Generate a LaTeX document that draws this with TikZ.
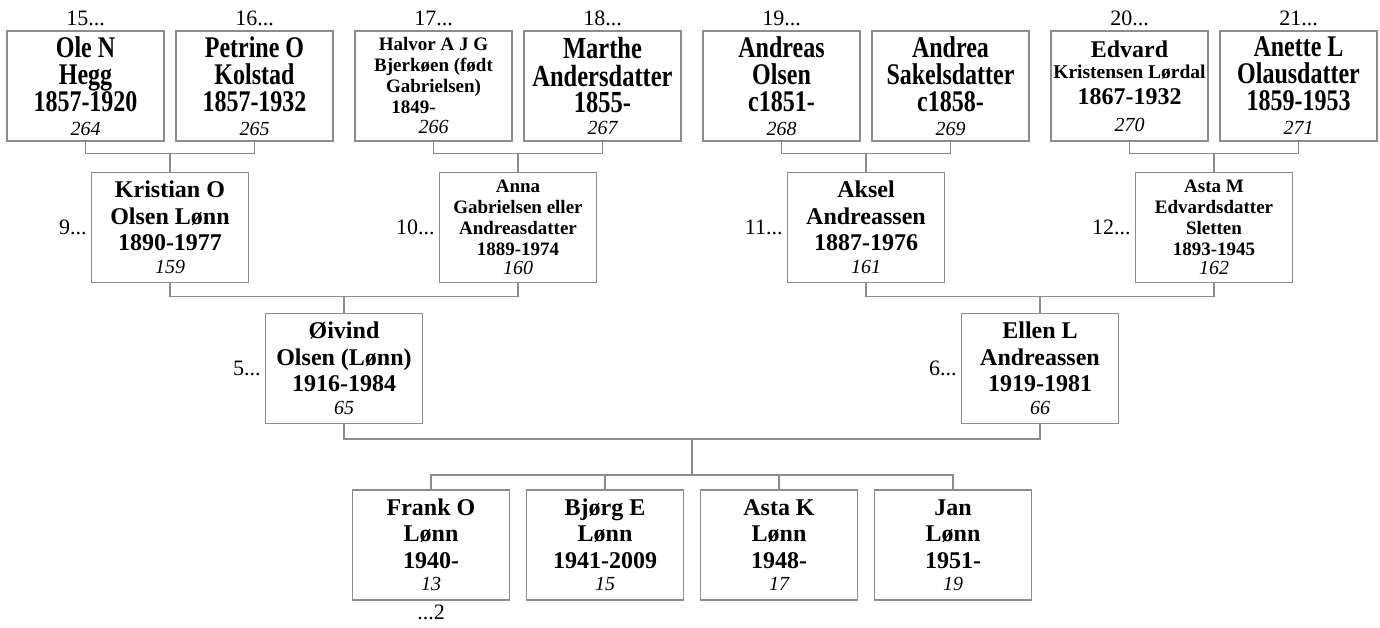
\documentclass[tikz,border=0pt]{standalone}
\usepackage{graphicx}
\usepackage{fontspec}
\setmainfont{Liberation Serif}
\usetikzlibrary{positioning}
\definecolor{boxgray}{RGB}{140,140,140}
\tikzstyle{person}=[draw=boxgray, line width=1.4pt, fill=white, minimum width=157pt, minimum height=110pt, text width=157pt, inner sep=0pt, align=flush center, font=\fontsize{24}{26.5}\selectfont\bfseries]
\tikzstyle{tall}=[person, font=\fontsize{24}{27}\selectfont\bfseries, execute at begin node={\lineskiplimit=-50pt\relax}]
\tikzstyle{small}=[person, font=\fontsize{19}{21}\selectfont\bfseries]
\tikzstyle{link}=[draw=boxgray, line width=1.2pt]
\tikzstyle{tag}=[font=\fontsize{22}{22}\selectfont\mdseries, inner sep=4pt]
\newcommand{\tl}[1]{\scalebox{1}[1.25]{#1}}
\newcommand{\refno}[1]{{\fontsize{20}{24}\selectfont\mdseries\itshape #1}}

\begin{document}
\begin{tikzpicture}[x=1pt,y=1pt]
\useasboundingbox (0,0) rectangle (1380,628);

% great-grandparents
\node (n264) [tall, label={[tag]above:15...}] at (85.5,542) {\tl{Ole N}\\\tl{Hegg}\\\tl{1857-1920}\\[-3pt]\refno{264}};
\node (n265) [tall, label={[tag]above:16...}] at (254.5,542) {\tl{Petrine O}\\\tl{Kolstad}\\\tl{1857-1932}\\[-3pt]\refno{265}};
\node (n266) [small, label={[tag]above:17...}] at (433.5,542) {Halvor A J G\\Bjerkøen (født\\Gabrielsen)\\\hspace*{-40pt}1849-\\[-1pt]\refno{266}};
\node (n267) [tall, font=\fontsize{24.5}{27}\selectfont\bfseries, label={[tag]above:18...}] at (602.5,542) {\tl{Marthe}\\[1pt]\tl{Andersdatter}\\[-1pt]\tl{1855-}\\[-5pt]\refno{267}};
\node (n268) [tall, label={[tag]above:19...}] at (781.5,542) {\tl{Andreas}\\\tl{Olsen}\\\tl{c1851-}\\[-3pt]\refno{268}};
\node (n269) [tall] at (950.5,542) {\tl{Andrea}\\\tl{Sakelsdatter}\\\tl{c1858-}\\[-3pt]\refno{269}};
\node (n270) [tall, label={[tag]above:20...}] at (1129.5,542) {Edvard\\[-6pt]{\fontsize{19.5}{21}\selectfont Kristensen Lørdal}\\[-1pt]1867-1932\\\refno{270}};
\node (n271) [tall, label={[tag]above:21...}] at (1298.5,542) {\tl{Anette L}\\\tl{Olausdatter}\\\tl{1859-1953}\\[-3pt]\refno{271}};

% grandparents
\node (n159) [person, label={[tag]left:9...}] at (170,400.5) {Kristian O\\Olsen Lønn\\1890-1977\\[-4pt]\refno{159}};
\node (n160) [small, label={[tag]left:10...}] at (518,400.5) {Anna\\Gabrielsen eller\\Andreasdatter\\1889-1974\\[-2pt]\refno{160}};
\node (n161) [person, label={[tag]left:11...}] at (866,400.5) {Aksel\\Andreassen\\1887-1976\\[-4pt]\refno{161}};
\node (n162) [small, label={[tag]left:12...}] at (1214,400.5) {Asta M\\Edvardsdatter\\Sletten\\1893-1945\\[-2pt]\refno{162}};

% parents
\node (n65) [person, label={[tag]left:5...}] at (344,259.5) {Øivind\\Olsen (Lønn)\\1916-1984\\[-4pt]\refno{65}};
\node (n66) [person, label={[tag]left:6...}] at (1040,259.5) {Ellen L\\Andreassen\\1919-1981\\[-4pt]\refno{66}};

% children
\node (n13) [person, label={[tag]below:...2}] at (431,83) {Frank O\\Lønn\\1940-\\[-4pt]\refno{13}};
\node (n15) [person] at (605,83) {Bjørg E\\Lønn\\1941-2009\\[-4pt]\refno{15}};
\node (n17) [person] at (779,83) {Asta K\\Lønn\\1948-\\[-4pt]\refno{17}};
\node (n19) [person] at (953,83) {Jan\\Lønn\\1951-\\[-4pt]\refno{19}};

% family forks
\path (n159.north) ++(0,18) coordinate (j159);
\path (n160.north) ++(0,18) coordinate (j160);
\path (n161.north) ++(0,18) coordinate (j161);
\path (n162.north) ++(0,18) coordinate (j162);
\path (n65.north) ++(0,16) coordinate (j65);
\path (n66.north) ++(0,16) coordinate (j66);
\coordinate (fam) at (692,189);
\coordinate (kids) at (692,153);

\draw [link] (n264.south) |- (j159) -| (n265.south);
\draw [link] (j159) -- (n159.north);
\draw [link] (n266.south) |- (j160) -| (n267.south);
\draw [link] (j160) -- (n160.north);
\draw [link] (n268.south) |- (j161) -| (n269.south);
\draw [link] (j161) -- (n161.north);
\draw [link] (n270.south) |- (j162) -| (n271.south);
\draw [link] (j162) -- (n162.north);

\draw [link] (n159.south) |- (j65) -| (n160.south);
\draw [link] (j65) -- (n65.north);
\draw [link] (n161.south) |- (j66) -| (n162.south);
\draw [link] (j66) -- (n66.north);

\draw [link] (n65.south) |- (fam) -| (n66.south);
\draw [link] (fam) -- (kids);
\draw [link] (n13.north) |- (kids) -| (n19.north);
\draw [link] (n15.north) -- (n15.north |- kids);
\draw [link] (n17.north) -- (n17.north |- kids);

\end{tikzpicture}
\end{document}
